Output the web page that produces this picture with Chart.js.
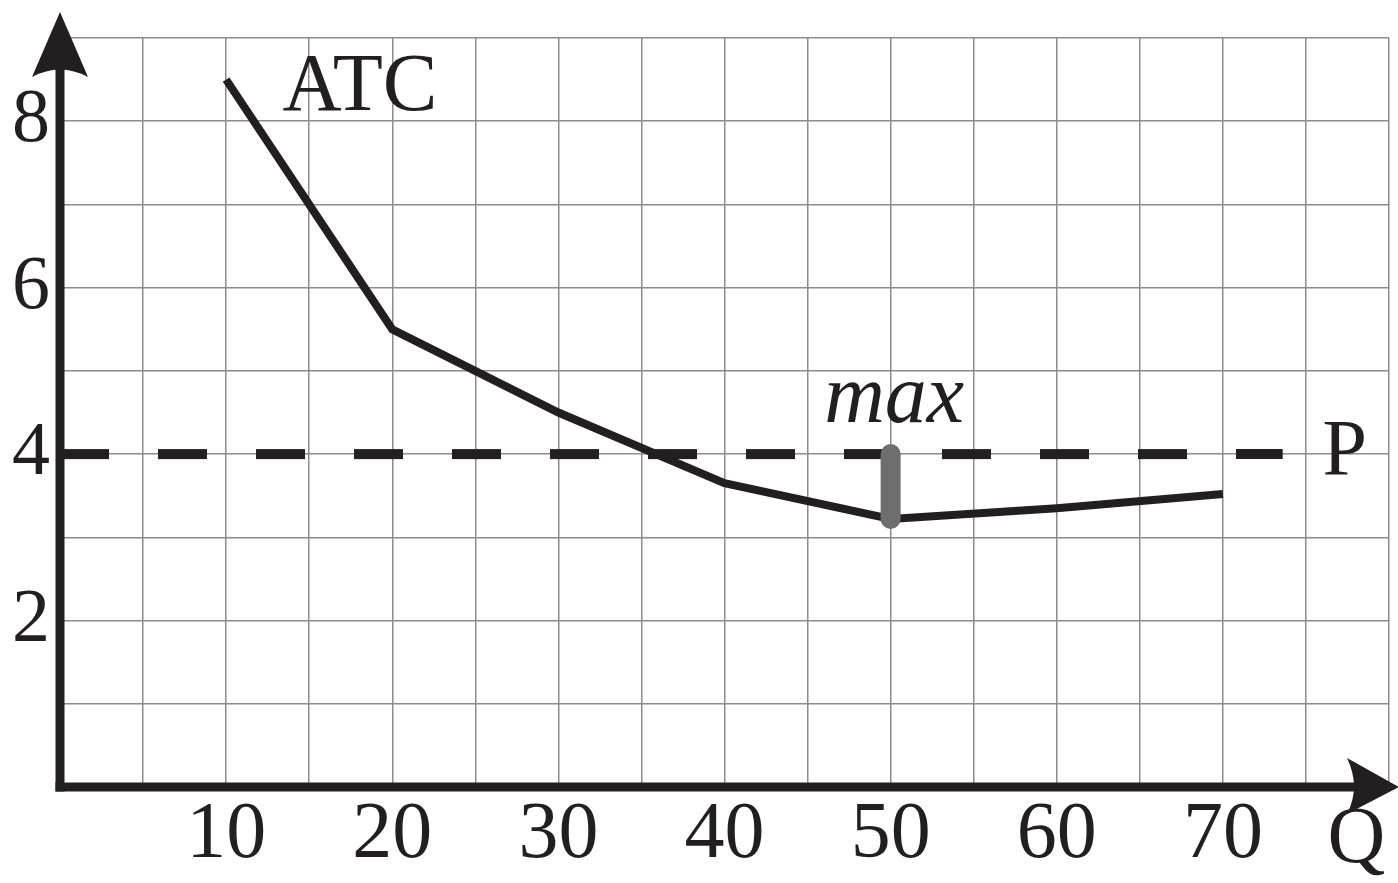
<!DOCTYPE html>
<html>
<head>
<meta charset="utf-8">
<title>ATC</title>
<script src="https://cdn.jsdelivr.net/npm/chart.js@4.4.1/dist/chart.umd.min.js"></script>
<style>
  html, body { margin: 0; padding: 0; background: #fff; }
  canvas { display: block; }
</style>
</head>
<body>
<canvas id="atcChart" width="1398" height="883"></canvas>
<script>
// data
const quantity = [10, 20, 30, 40, 50, 60, 70];
const atcValues = [8.5, 5.5, 4.5, 3.65, 3.22, 3.35, 3.52];
const priceLevel = 4;
const priceLineEnd = 73.6;
const maxQ = 50;
const xTickLabels = [10, 20, 30, 40, 50, 60, 70];
const yTickLabels = [2, 4, 6, 8];

const ink = "#231f20";
const serif = "'Liberation Serif', 'Times New Roman', serif";

// text annotations, anchored in data units (left, baseline)
const notes = [
    { text: "ATC", x: 13.4, y: 8.13, size: 82, italic: false },
    { text: "max", x: 46.0, y: 4.38, size: 84, italic: true },
    { text: "P", x: 76.0, y: 3.75, size: 80, italic: false },
    { text: "Q", x: 76.3, y: -0.9, size: 80, italic: false },
];

const atcPoints = quantity.map((q, i) => ({ x: q, y: atcValues[i] }));
const pricePoints = [{ x: 0, y: priceLevel }, { x: priceLineEnd, y: priceLevel }];
const maxPoint = atcValues[quantity.indexOf(maxQ)];
const maxPoints = [{ x: maxQ, y: priceLevel }, { x: maxQ, y: maxPoint }];

// axes with arrowheads and the free text
const decorations = {
    id: "decorations",
    afterDatasetsDraw(chart) {
        const ctx = chart.ctx;
        const xs = chart.scales.x;
        const ys = chart.scales.y;
        const x0 = xs.getPixelForValue(0);
        const y0 = ys.getPixelForValue(0);

        ctx.save();
        ctx.strokeStyle = ink;
        ctx.fillStyle = ink;
        ctx.lineWidth = 9;
        ctx.lineCap = "butt";

        // y axis
        ctx.beginPath();
        ctx.moveTo(x0, y0 + 4.5);
        ctx.lineTo(x0, ys.top + 30);
        ctx.stroke();
        // x axis
        ctx.beginPath();
        ctx.moveTo(x0 - 4.5, y0);
        ctx.lineTo(xs.right - 10, y0);
        ctx.stroke();

        // y arrow
        const ty = ys.top - 26;
        ctx.beginPath();
        ctx.moveTo(x0, ty);
        ctx.lineTo(x0 + 28, ty + 65);
        ctx.quadraticCurveTo(x0, ty + 50, x0 - 28, ty + 65);
        ctx.closePath();
        ctx.fill();

        // x arrow
        const tx = xs.right + 10;
        ctx.beginPath();
        ctx.moveTo(tx, y0);
        ctx.lineTo(tx - 52, y0 + 27);
        ctx.quadraticCurveTo(tx - 38, y0, tx - 52, y0 - 29);
        ctx.closePath();
        ctx.fill();

        // labels
        ctx.textBaseline = "alphabetic";
        ctx.textAlign = "left";
        notes.forEach((n) => {
            ctx.font = (n.italic ? "italic " : "") + n.size + "px " + serif;
            ctx.fillText(n.text, xs.getPixelForValue(n.x), ys.getPixelForValue(n.y));
        });
        ctx.restore();
    },
};

new Chart(document.getElementById("atcChart"), {
    type: "line",
    data: {
        datasets: [
            {
                label: "max",
                data: maxPoints,
                borderColor: "#6e6e6e",
                borderWidth: 20,
                borderCapStyle: "round",
                pointRadius: 0,
                order: 0,
            },
            {
                label: "ATC",
                data: atcPoints,
                borderColor: ink,
                borderWidth: 8,
                borderJoinStyle: "miter",
                pointRadius: 0,
                tension: 0,
                order: 1,
            },
            {
                label: "P",
                data: pricePoints,
                borderColor: ink,
                borderWidth: 10,
                borderDash: [49, 49],
                pointRadius: 0,
                order: 2,
            },
        ],
    },
    options: {
        responsive: false,
        devicePixelRatio: 1,
        animation: false,
        layout: { padding: { top: 38, right: 9, left: 0, bottom: 0 } },
        plugins: {
            legend: { display: false },
            tooltip: { enabled: false },
        },
        scales: {
            x: {
                type: "linear",
                min: 0,
                max: 80,
                border: { display: false },
                grid: { color: "#8c8c8c", lineWidth: 1.5, drawTicks: false },
                ticks: {
                    stepSize: 5,
                    autoSkip: false,
                    maxRotation: 0,
                    padding: 1,
                    color: ink,
                    font: { family: serif, size: 80, lineHeight: 1.2 },
                    callback: (v) => (xTickLabels.includes(v) ? String(v) : ""),
                },
                afterFit: (scale) => { scale.height = 96; },
            },
            y: {
                type: "linear",
                min: 0,
                max: 9,
                border: { display: false },
                grid: { color: "#8c8c8c", lineWidth: 1.5, drawTicks: false },
                ticks: {
                    stepSize: 1,
                    autoSkip: false,
                    padding: 10,
                    color: ink,
                    font: { family: serif, size: 76, lineHeight: 0.4 },
                    callback: (v) => (yTickLabels.includes(v) ? String(v) : ""),
                },
                afterFit: (scale) => { scale.width = 60; },
            },
        },
    },
    plugins: [decorations],
});
</script>
</body>
</html>
